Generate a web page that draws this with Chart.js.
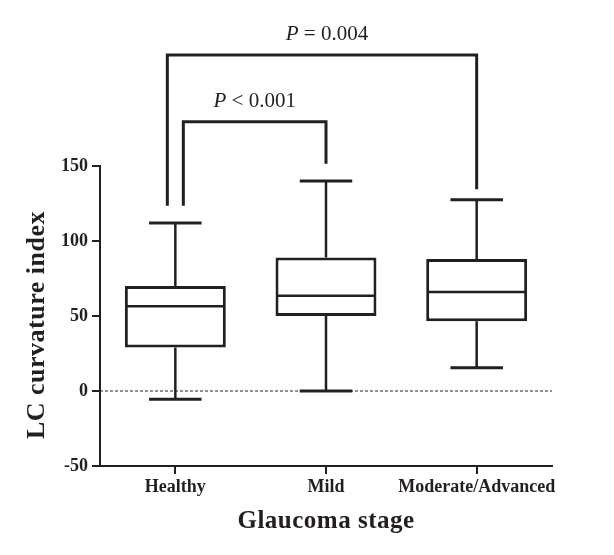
<!DOCTYPE html>
<html lang="en">
<head>
    <meta charset="UTF-8">
    <title>LC curvature index by glaucoma stage</title>
    <script src="https://cdn.jsdelivr.net/npm/chart.js"></script>
    <style>
        body { margin: 0; background: #fff; }
        #wrap { width: 614px; height: 555px; }
    </style>
</head>
<body>
    <div id="wrap"><canvas id="boxChart" width="614" height="555"></canvas></div>

    <script>
        // data
        const stages = ['Healthy', 'Mild', 'Moderate/Advanced'];
        const whiskerLow  = [-5.5, 0, 15.5];
        const q1          = [29, 50, 46.5];
        const median      = [56.5, 63.5, 66];
        const q3          = [70, 89, 88];
        const whiskerHigh = [112, 140, 127.5];
        const yTicks = [-50, 0, 50, 100, 150];

        // significance brackets: category indexes and labels
        const comparisons = [
            { from: 0, to: 1, label: '< 0.001', top: 179.5, legFrom: 123.5, legTo: 151.5, dx: 8 },
            { from: 0, to: 2, label: '= 0.004', top: 224, legFrom: 123.5, legTo: 134.5, dx: -8 }
        ];

        const ink = '#231f20';
        const serif = "'Liberation Serif', 'DejaVu Serif', serif";

        const boxPlugin = {
            id: 'boxExtras',
            beforeDatasetsDraw(chart) {
                const { ctx, chartArea, scales: { y } } = chart;
                const y0 = y.getPixelForValue(0);
                ctx.save();
                ctx.strokeStyle = ink;
                ctx.lineWidth = 1;
                ctx.setLineDash([3, 2]);
                ctx.beginPath();
                ctx.moveTo(chartArea.left, y0);
                ctx.lineTo(chartArea.right, y0);
                ctx.stroke();
                ctx.restore();

                // whiskers behind boxes
                const meta = chart.getDatasetMeta(0);
                ctx.save();
                ctx.strokeStyle = ink;
                meta.data.forEach((bar, i) => {
                    const cx = bar.x;
                    const capHalf = bar.width * 0.26;
                    ctx.lineWidth = 2.5;
                    ctx.beginPath();
                    ctx.moveTo(cx, y.getPixelForValue(whiskerHigh[i]));
                    ctx.lineTo(cx, y.getPixelForValue(q3[i]));
                    ctx.moveTo(cx, y.getPixelForValue(q1[i]));
                    ctx.lineTo(cx, y.getPixelForValue(whiskerLow[i]));
                    ctx.stroke();
                    ctx.lineWidth = 3;
                    ctx.beginPath();
                    [whiskerHigh[i], whiskerLow[i]].forEach(v => {
                        const py = y.getPixelForValue(v);
                        ctx.moveTo(cx - capHalf, py);
                        ctx.lineTo(cx + capHalf, py);
                    });
                    ctx.stroke();
                });
                ctx.restore();
            },
            afterDatasetsDraw(chart) {
                const { ctx, chartArea, scales: { x, y } } = chart;
                const meta = chart.getDatasetMeta(0);
                ctx.save();
                ctx.strokeStyle = ink;
                ctx.lineWidth = 2.5;
                meta.data.forEach((bar, i) => {
                    const half = bar.width / 2;
                    const py = y.getPixelForValue(median[i]);
                    ctx.beginPath();
                    ctx.moveTo(bar.x - half + 1.5, py);
                    ctx.lineTo(bar.x + half - 1.5, py);
                    ctx.stroke();
                });

                // brackets and P values
                comparisons.forEach(c => {
                    const x1 = x.getPixelForValue(c.from) + c.dx;
                    const x2 = x.getPixelForValue(c.to);
                    const yt = y.getPixelForValue(c.top);
                    ctx.lineWidth = 3;
                    ctx.lineJoin = 'miter';
                    ctx.beginPath();
                    ctx.moveTo(x1, y.getPixelForValue(c.legFrom));
                    ctx.lineTo(x1, yt);
                    ctx.lineTo(x2, yt);
                    ctx.lineTo(x2, y.getPixelForValue(c.legTo));
                    ctx.stroke();

                    ctx.fillStyle = ink;
                    ctx.textBaseline = 'alphabetic';
                    ctx.textAlign = 'left';
                    const italic = 'italic 21px ' + serif;
                    const plain = '21px ' + serif;
                    ctx.font = italic;
                    const wP = ctx.measureText('P').width;
                    ctx.font = plain;
                    const rest = ' ' + c.label;
                    const wR = ctx.measureText(rest).width;
                    const mid = c.to === 2 ? (x.getPixelForValue(1) + 1) : (x1 + x2) / 2;
                    const start = mid - (wP + wR) / 2;
                    const base = yt - 15;
                    ctx.font = italic;
                    ctx.fillText('P', start, base);
                    ctx.font = plain;
                    ctx.fillText(rest, start + wP, base);
                });

                // axis titles
                ctx.fillStyle = ink;
                ctx.textAlign = 'center';
                ctx.textBaseline = 'middle';
                ctx.letterSpacing = '0.5px';
                ctx.font = 'bold 25px ' + serif;
                ctx.fillText('Glaucoma stage', 326, 522);
                ctx.letterSpacing = '0.5px';
                ctx.font = 'bold 26px ' + serif;
                ctx.translate(37, 325);
                ctx.rotate(-Math.PI / 2);
                ctx.fillText('LC curvature index', 0, 0);
                ctx.restore();
            }
        };

        const ctx = document.getElementById('boxChart').getContext('2d');
        new Chart(ctx, {
            type: 'bar',
            data: {
                labels: stages,
                datasets: [{
                    data: stages.map((s, i) => [q1[i], q3[i]]),
                    backgroundColor: '#ffffff',
                    borderColor: ink,
                    borderWidth: 3,
                    borderSkipped: false,
                    barPercentage: 0.67,
                    categoryPercentage: 1
                }]
            },
            options: {
                responsive: false,
                animation: false,
                layout: { padding: { top: 166, right: 62, left: 0, bottom: 0 } },
                plugins: { legend: { display: false }, tooltip: { enabled: false } },
                scales: {
                    x: {
                        offset: true,
                        grid: { display: true, offset: false, drawOnChartArea: false, drawTicks: true, tickLength: 8, color: ink, lineWidth: 2 },
                        border: { display: true, color: ink, width: 2 },
                        ticks: { color: ink, padding: 3, autoSkip: false, maxRotation: 0, minRotation: 0, font: { family: serif, size: 18, weight: 'bold' } },
                        afterFit(scale) { scale.height = 89; }
                    },
                    y: {
                        min: -50, max: 150,
                        afterBuildTicks(scale) { scale.ticks = yTicks.map(v => ({ value: v })); },
                        grid: { display: true, drawOnChartArea: false, drawTicks: true, tickLength: 8, color: ink, lineWidth: 2 },
                        border: { display: true, color: ink, width: 2 },
                        ticks: { color: ink, padding: 4, font: { family: serif, size: 18, weight: 'bold' } },
                        afterFit(scale) { scale.width = 100; }
                    }
                }
            },
            plugins: [boxPlugin]
        });
    </script>
</body>
</html>
